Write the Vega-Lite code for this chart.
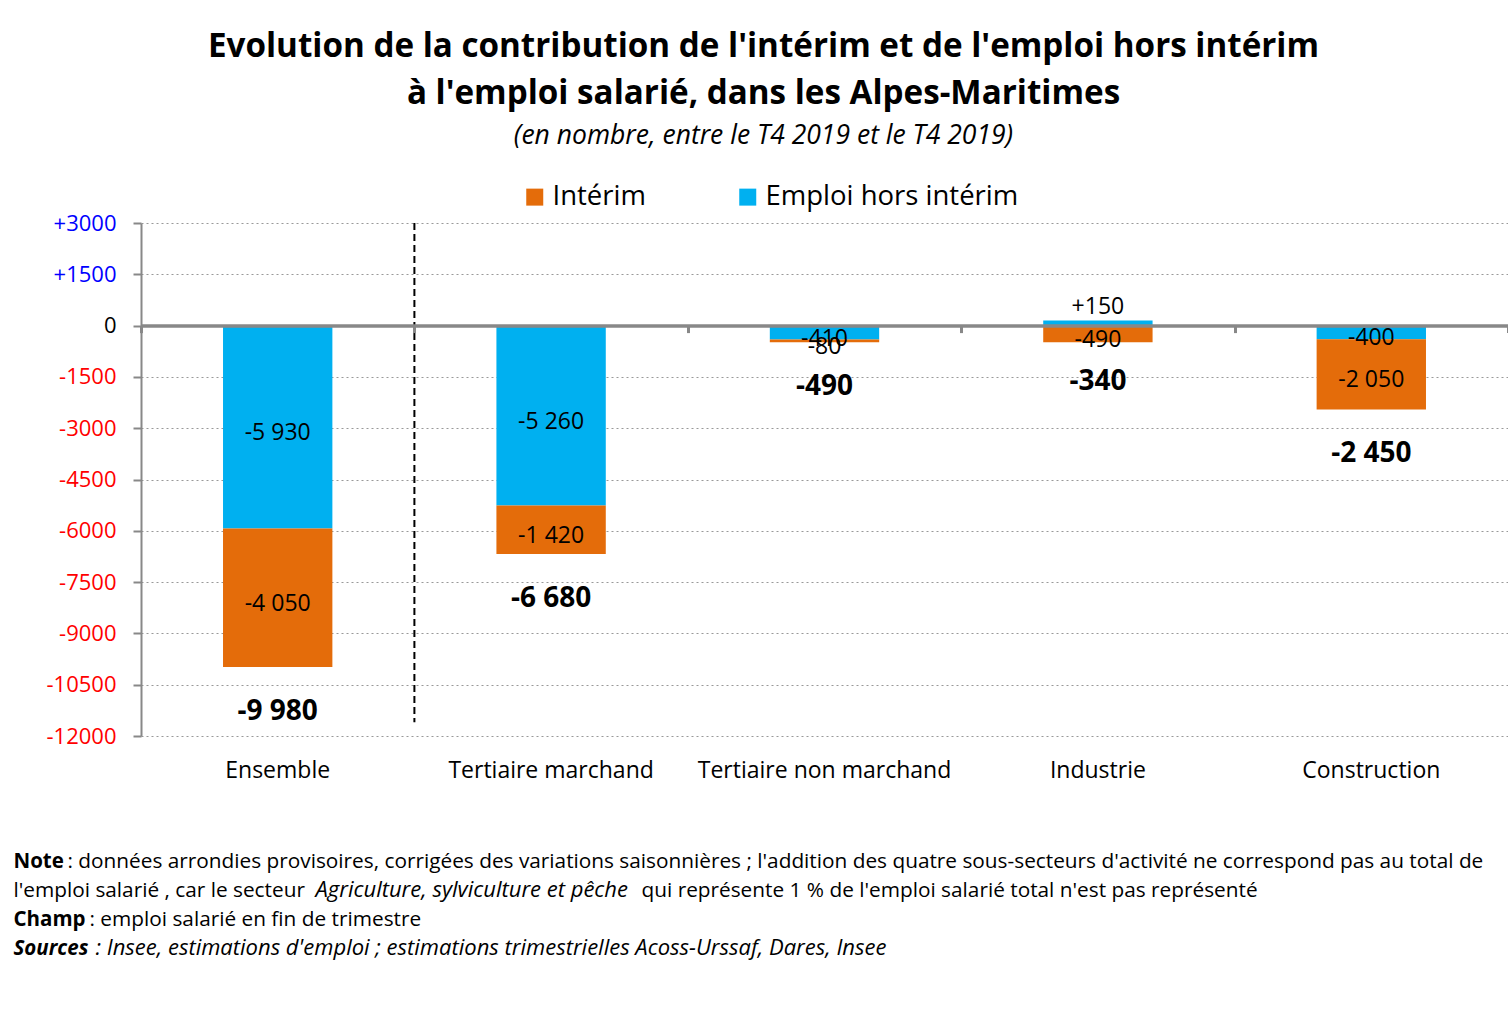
{
  "$schema": "https://vega.github.io/schema/vega-lite/v6.json",
  "width": 1367,
  "height": 513,
  "autosize": "none",
  "padding": {"left": 141, "top": 223, "right": 0, "bottom": 278},
  "background": "white",
  "config": {
    "font": "Open Sans",
    "view": {"stroke": null},
    "locale": {"number": {"decimal": ",", "thousands": "\u00a0", "grouping": [3], "currency": ["", "\u00a0€"], "minus": "-"}},
    "axis": {"labelColor": "#000000", "titleColor": "#000000", "labelFont": "Open Sans", "titleFont": "Open Sans", "labelLimit": 400, "titleLimit": 2000},
    "legend": {"labelFont": "Open Sans", "labelLimit": 400}
  },
  "title": {
    "text": ["Evolution de la contribution de l'intérim et de l'emploi hors intérim", "à l'emploi salarié, dans les Alpes-Maritimes"],
    "subtitle": "(en nombre, entre le T4 2019 et le T4 2019)",
    "anchor": "middle",
    "dx": -61,
    "font": "Open Sans",
    "fontSize": 33.2,
    "fontWeight": "bold",
    "lineHeight": 47,
    "color": "#000000",
    "subtitleFont": "Open Sans",
    "subtitleFontSize": 26.5,
    "subtitleFontStyle": "italic",
    "subtitleColor": "#000000",
    "subtitlePadding": 11,
    "offset": 33
  },
  "data": {
    "values": [
      {"cat": "Ensemble", "serie": "Emploi hors intérim", "value": -5930},
      {"cat": "Ensemble", "serie": "Intérim", "value": -4050},
      {"cat": "Tertiaire marchand", "serie": "Emploi hors intérim", "value": -5260},
      {"cat": "Tertiaire marchand", "serie": "Intérim", "value": -1420},
      {"cat": "Tertiaire non marchand", "serie": "Emploi hors intérim", "value": -410},
      {"cat": "Tertiaire non marchand", "serie": "Intérim", "value": -80},
      {"cat": "Industrie", "serie": "Emploi hors intérim", "value": 150},
      {"cat": "Industrie", "serie": "Intérim", "value": -490},
      {"cat": "Construction", "serie": "Emploi hors intérim", "value": -400},
      {"cat": "Construction", "serie": "Intérim", "value": -2050}
    ]
  },
  "resolve": {"axis": {"x": "independent", "y": "independent"}},
  "layer": [
    {
      "mark": {"type": "bar", "width": {"band": 0.4}},
      "encoding": {
        "x": {
          "field": "cat", "type": "nominal", "sort": null,
          "scale": {"paddingInner": 0, "paddingOuter": 0},
          "axis": {
            "orient": "bottom", "labelAngle": 0, "labelFontSize": 23, "labelPadding": 23,
            "ticks": false, "domain": false, "grid": false,
            "title": "Note", "titleX": -128, "titleY": 131,
            "titleAlign": "left", "titleAnchor": "start", "titleBaseline": "alphabetic",
            "titleFontSize": 20.5, "titleFontWeight": "bold"
          }
        },
        "y": {
          "field": "value", "type": "quantitative", "stack": "zero",
          "scale": {"domain": [-12000, 3000], "nice": false, "zero": false},
          "axis": {
            "orient": "left",
            "values": [3000, 1500, 0, -1500, -3000, -4500, -6000, -7500, -9000, -10500, -12000],
            "labelExpr": "datum.value > 0 ? '+' + datum.value : '' + datum.value",
            "labelColor": {"condition": [{"test": "datum.value > 0", "value": "#0000ff"}, {"test": "datum.value < 0", "value": "#ff0000"}], "value": "#000000"},
            "labelFontSize": 22, "labelPadding": 17,
            "tickSize": 8, "tickColor": "#888888", "tickWidth": 2,
            "domain": true, "domainColor": "#888888", "domainWidth": 2,
            "grid": true, "gridDash": [2, 3], "gridColor": "#999999", "gridWidth": 1,
            "title": ": emploi salarié en fin de trimestre",
            "titleAngle": 0, "titleX": -52, "titleY": 702, "titleAlign": "left", "titleBaseline": "alphabetic",
            "titleFontSize": 20.8, "titleFontWeight": "normal"
          }
        },
        "color": {
          "field": "serie", "type": "nominal",
          "scale": {"domain": ["Intérim", "Emploi hors intérim"], "range": ["#E46C0A", "#00B0F0"]},
          "legend": {
            "orient": "none", "legendX": 380, "legendY": -40, "direction": "horizontal",
            "title": null, "symbolType": "square", "symbolSize": 289, "symbolStrokeWidth": 0,
            "labelFontSize": 27.5, "labelOffset": 4, "columnPadding": 88, "labelColor": "#000000"
          }
        },
        "order": {"field": "serie", "sort": "ascending"}
      }
    },
    {
      "data": {"values": [{"cat": "Ensemble"}]},
      "mark": {"type": "rule", "color": "#000000", "strokeWidth": 2, "strokeDash": [7, 4]},
      "encoding": {
        "x": {
          "field": "cat", "type": "nominal", "bandPosition": 1, "sort": null,
          "axis": {
            "orient": "bottom", "offset": -410.4, "labels": false, "tickBand": "extent",
            "ticks": true, "tickColor": "#888888", "tickWidth": 3, "tickSize": 7,
            "domain": true, "domainColor": "#888888", "domainWidth": 3.5, "grid": false, "zindex": 1,
            "title": ": données arrondies provisoires, corrigées des variations saisonnières ; l'addition des quatre sous-secteurs d'activité ne correspond pas au total de",
            "titleX": -74, "titleY": 541.4, "titleAlign": "left", "titleAnchor": "start", "titleBaseline": "alphabetic",
            "titleFontSize": 20.8, "titleFontWeight": "normal"
          }
        },
        "y": {
          "datum": 3000, "type": "quantitative",
          "axis": {
            "orient": "left", "labels": false, "ticks": false, "domain": false, "grid": false,
            "title": "Sources", "titleAngle": 0, "titleX": -128, "titleY": 731, "titleAlign": "left", "titleBaseline": "alphabetic",
            "titleFontSize": 20.5, "titleFontWeight": "bold", "titleFontStyle": "italic"
          }
        },
        "y2": {"datum": -11600}
      }
    },
    {
      "transform": [
        {"stack": "value", "groupby": ["cat"], "sort": [{"field": "serie", "order": "ascending"}], "as": ["v0", "v1"]},
        {"calculate": "(datum.v0 + datum.v1) / 2", "as": "mid"},
        {"filter": "datum.value < 0"}
      ],
      "mark": {"type": "text", "fontSize": 23, "baseline": "middle", "dy": 6, "color": "#000000"},
      "encoding": {
        "x": {
          "field": "cat", "type": "nominal", "sort": null,
          "axis": {
            "orient": "bottom", "labels": false, "ticks": false, "domain": false, "grid": false,
            "title": "l'emploi salarié , car le secteur", "titleX": -128, "titleY": 160,
            "titleAlign": "left", "titleAnchor": "start", "titleBaseline": "alphabetic",
            "titleFontSize": 20.8, "titleFontWeight": "normal"
          }
        },
        "y": {
          "field": "mid", "type": "quantitative",
          "axis": {
            "orient": "left", "labels": false, "ticks": false, "domain": false, "grid": false,
            "title": ": Insee, estimations d'emploi ; estimations trimestrielles Acoss-Urssaf, Dares, Insee",
            "titleAngle": 0, "titleX": -46, "titleY": 731, "titleAlign": "left", "titleBaseline": "alphabetic",
            "titleFontSize": 22, "titleFontWeight": "normal", "titleFontStyle": "italic"
          }
        },
        "text": {"field": "value", "type": "quantitative", "format": ",d"}
      }
    },
    {
      "transform": [{"filter": "datum.value > 0"}],
      "mark": {"type": "text", "fontSize": 23, "baseline": "bottom", "dy": -1, "color": "#000000"},
      "encoding": {
        "x": {
          "field": "cat", "type": "nominal", "sort": null,
          "axis": {
            "orient": "bottom", "labels": false, "ticks": false, "domain": false, "grid": false,
            "title": "Agriculture, sylviculture et pêche", "titleX": 174, "titleY": 160,
            "titleAlign": "left", "titleAnchor": "start", "titleBaseline": "alphabetic",
            "titleFontSize": 22, "titleFontWeight": "normal", "titleFontStyle": "italic"
          }
        },
        "y": {
          "field": "value", "type": "quantitative",
          "axis": {
            "orient": "left", "labels": false, "ticks": false, "domain": false, "grid": false,
            "title": "Champ", "titleAngle": 0, "titleX": -128, "titleY": 702, "titleAlign": "left", "titleBaseline": "alphabetic",
            "titleFontSize": 20.5, "titleFontWeight": "bold"
          }
        },
        "text": {"field": "value", "type": "quantitative", "format": "+d"}
      }
    },
    {
      "transform": [{"aggregate": [{"op": "sum", "field": "value", "as": "total"}], "groupby": ["cat"]}],
      "mark": {"type": "text", "fontSize": 28, "fontWeight": "bold", "baseline": "middle", "dy": 45, "color": "#000000"},
      "encoding": {
        "x": {
          "field": "cat", "type": "nominal", "sort": null,
          "axis": {
            "orient": "bottom", "labels": false, "ticks": false, "domain": false, "grid": false,
            "title": "qui représente 1 % de l'emploi salarié total n'est pas représenté", "titleX": 500, "titleY": 160,
            "titleAlign": "left", "titleAnchor": "start", "titleBaseline": "alphabetic",
            "titleFontSize": 20.8, "titleFontWeight": "normal"
          }
        },
        "y": {"field": "total", "type": "quantitative", "axis": null},
        "text": {"field": "total", "type": "quantitative", "format": ",d"}
      }
    }
  ]
}
